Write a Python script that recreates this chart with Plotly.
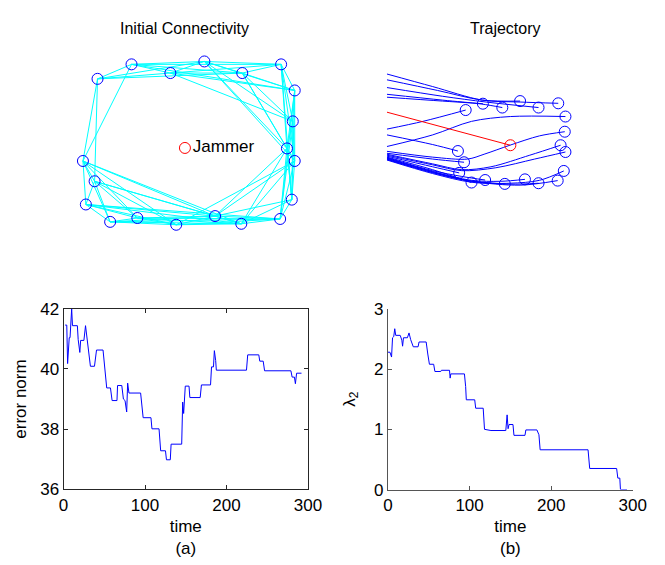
import plotly.graph_objects as go

# ---------------- data ----------------
# Initial connectivity: node positions (panel units)
node_x = [130, 205, 284, 95, 170, 244, 298, 296, 290, 298, 80, 92, 295, 83, 136, 108, 176, 216, 243, 283]
node_y = [57, 54, 57, 72, 66, 66, 84, 116, 144, 157, 157, 178, 197, 202, 216, 220, 223, 214, 222, 217]
jammer_x = [185]
jammer_y = [143.5]
edges = [
    (3, 0), (3, 4), (3, 5), (3, 1), (0, 1), (0, 2), (0, 4), (0, 5), (0, 6),
    (1, 2), (1, 4), (1, 5), (1, 6), (1, 7), (1, 8), (1, 9),
    (4, 2), (4, 5), (4, 6), (4, 7), (5, 2), (5, 6), (5, 7), (5, 8), (5, 9),
    (2, 6), (2, 7), (2, 8), (2, 9), (2, 12), (6, 7), (6, 8), (6, 9), (6, 12), (6, 19),
    (7, 8), (7, 9), (7, 12), (7, 19), (8, 9), (8, 12), (8, 19), (8, 18), (8, 17),
    (9, 12), (9, 19), (9, 18), (9, 17), (9, 16), (3, 10), (3, 11), (0, 10),
    (10, 11), (10, 13), (10, 14), (10, 15), (10, 16), (10, 17), (10, 18),
    (11, 13), (11, 14), (11, 15), (11, 16), (11, 17), (11, 18),
    (13, 14), (13, 15), (13, 16), (13, 17), (13, 18), (13, 19),
    (15, 14), (15, 16), (15, 17), (15, 18), (15, 19),
    (14, 16), (14, 17), (14, 18), (14, 19), (16, 17), (16, 18), (16, 19),
    (17, 18), (17, 19), (17, 12), (18, 19), (18, 12), (19, 12), (12, 8),
]

# Trajectories: sampled points per agent (panel units), last point = final position
traj_x = [
    [393, 440, 491, 530, 569.3],
    [393, 445, 491, 530],
    [393, 450, 495, 549],
    [393, 450, 490, 511.7],
    [393, 450, 491.7],
    [393, 430, 474],
    [393, 440, 480, 520, 576.7],
    [393, 440, 466],
    [393, 440, 476, 493, 520, 550, 576],
    [393, 440, 472.3],
    [393, 440, 470, 500, 540, 571.7],
    [393, 440, 470, 505, 545, 576.7],
    [393, 440, 467.3],
    [393, 440, 480],
    [393, 440, 470, 494],
    [393, 440, 475, 514.3],
    [393, 440, 480, 510, 535],
    [393, 440, 480, 520, 549],
    [393, 440, 480, 530, 568.7],
    [393, 440, 480, 520, 550, 575],
]
traj_y = [
    [67, 80, 94, 96, 97.3],
    [73, 84, 94, 95],
    [81, 90, 96, 101.7],
    [88, 94, 98, 101.7],
    [91, 95, 97.7],
    [124, 116, 104.3],
    [142, 130, 116, 111, 111],
    [130, 140, 146.7],
    [147, 153, 155, 150, 140.5, 131, 126.7],
    [149, 155, 158.3],
    [150, 160, 166, 163, 151, 140.7],
    [151, 161, 167, 164, 155, 147.7],
    [152, 163, 169.3],
    [153, 166, 179.3],
    [153.5, 167, 173, 176.7],
    [154, 168, 177, 180.7],
    [154.5, 168, 177, 178, 176],
    [155, 169, 178, 181, 180],
    [155.5, 169, 178, 182, 177.3],
    [156, 170, 179, 180, 177, 167.3],
]
red_x = [393, 520]
red_y = [106.5, 140.7]

# error norm vs time
err_t = [2, 4, 5, 7, 8, 10, 11, 17, 18, 20, 21, 25, 27, 29, 31, 33, 38, 40.5, 48.5, 51,
         53, 57.6, 59.6, 65.6, 66.3, 71.5, 73.5, 75.5, 77.5, 78.7, 80.3, 94.6, 96.1, 97.7,
         107.3, 108.5, 117.2, 119.2, 125.1, 126.3, 131, 132, 145, 146.2, 147.4, 149.4, 154,
         155, 167.7, 169.2, 180.4, 181.6, 184, 185.1, 186.7, 187.5, 224.5, 226, 239.6, 240.8,
         245, 246.7, 279, 280.5, 283.3, 284.5, 286, 292]
err_v = [41.46, 41.46, 40.18, 41.04, 41.04, 42.0, 41.44, 41.44, 40.98, 40.55, 40.95, 40.95,
         41.44, 40.98, 40.5, 40.09, 40.09, 40.63, 40.63, 39.8, 39.37, 39.37, 38.95, 38.95,
         39.45, 39.45, 39.0, 38.95, 38.57, 39.53, 39.2, 39.2, 38.8, 38.38, 38.38, 38.01, 38.01,
         37.28, 37.28, 36.98, 36.98, 37.5, 37.5, 38.9, 38.52, 39.43, 39.43, 39.05, 39.05,
         39.47, 39.47, 40.07, 40.07, 40.61, 40.28, 39.96, 39.96, 40.47, 40.47, 40.26, 40.26,
         39.94, 39.94, 39.73, 39.73, 39.51, 39.86, 39.86]

# lambda_2 vs time
lam_t = [0, 2.4, 4.4, 5.6, 7.1, 8.3, 9.5, 15, 17, 17.9, 19, 23.8, 25.8, 27.8, 31, 36.9, 38.1,
         46.8, 48.8, 50.8, 56, 57.5, 64.7, 65.5, 75.4, 76.2, 77, 93.7, 95.2, 96, 106.3, 107.5,
         116.7, 118.3, 126.2, 144.4, 146, 147.2, 148.4, 153.2, 154.4, 167.9, 169, 182.5, 185,
         186.5, 245.2, 247.2, 280.2, 281.7, 284.1, 284.9, 292.9]
lam_v = [2.28, 2.28, 2.2, 2.52, 2.54, 2.67, 2.56, 2.56, 2.48, 2.38, 2.52, 2.52, 2.6, 2.49,
         2.37, 2.37, 2.45, 2.45, 2.25, 2.08, 2.08, 1.96, 1.96, 1.98, 1.98, 1.85, 1.92, 1.92,
         1.71, 1.49, 1.49, 1.35, 1.35, 1.0, 0.98, 0.98, 1.24, 1.01, 1.08, 1.08, 0.9, 0.9, 0.99,
         0.99, 0.91, 0.66, 0.66, 0.35, 0.35, 0.19, 0.19, 0.0, 0.0]

x_ticks = [0, 100, 200, 300]
err_ticks = [36, 38, 40, 42]
lam_ticks = [0, 1, 2, 3]

# ---------------- figure ----------------
W, H = 665, 565
OFF = 8  # page body margin of the browser
FONT = "Liberation Sans, Arial, Helvetica, sans-serif"
BLUE = "#0000ff"
CYAN = "#00ffff"
RED = "#ff0000"


def dx(a, b):
    return [(a - OFF) / W, (b - OFF) / W]


def dy(top, bottom):
    return [1 - (bottom - OFF) / H, 1 - (top - OFF) / H]


fig = go.Figure()

# edges
ex, ey = [], []
for i, j in edges:
    ex += [node_x[i], node_x[j], None]
    ey += [node_y[i], node_y[j], None]
fig.add_trace(go.Scatter(x=ex, y=ey, mode="lines", line=dict(color=CYAN, width=1),
                         xaxis="x", yaxis="y", hoverinfo="skip"))
fig.add_trace(go.Scatter(x=node_x, y=node_y, mode="markers",
                         marker=dict(symbol="circle-open", size=11, color=BLUE, line=dict(width=1)),
                         xaxis="x", yaxis="y"))
fig.add_trace(go.Scatter(x=jammer_x, y=jammer_y, mode="markers+text", text=["Jammer"],
                         textposition="middle right",
                         textfont=dict(family=FONT, size=17, color="black"),
                         marker=dict(symbol="circle-open", size=11, color=RED, line=dict(width=1)),
                         xaxis="x", yaxis="y"))

# trajectories
for tx, ty in zip(traj_x, traj_y):
    fig.add_trace(go.Scatter(x=tx, y=ty, mode="lines",
                             line=dict(color=BLUE, width=1, shape="spline", smoothing=0.9),
                             xaxis="x2", yaxis="y2"))
fig.add_trace(go.Scatter(x=red_x, y=red_y, mode="lines", line=dict(color=RED, width=1),
                         xaxis="x2", yaxis="y2"))
fig.add_trace(go.Scatter(x=[t[-1] for t in traj_x], y=[t[-1] for t in traj_y], mode="markers",
                         marker=dict(symbol="circle-open", size=11, color=BLUE, line=dict(width=1)),
                         xaxis="x2", yaxis="y2"))
fig.add_trace(go.Scatter(x=[red_x[-1]], y=[red_y[-1]], mode="markers",
                         marker=dict(symbol="circle-open", size=11, color=RED, line=dict(width=1)),
                         xaxis="x2", yaxis="y2"))

# error norm
fig.add_trace(go.Scatter(x=err_t, y=err_v, mode="lines", line=dict(color=BLUE, width=1),
                         xaxis="x3", yaxis="y3"))
# lambda2
fig.add_trace(go.Scatter(x=lam_t, y=lam_v, mode="lines", line=dict(color=BLUE, width=1),
                         xaxis="x4", yaxis="y4"))

hidden = dict(visible=False, showgrid=False, zeroline=False)
tickfont = dict(family=FONT, size=17, color="black")


def axline(col):
    return dict(showline=True, linecolor=col, linewidth=1, ticks="inside", ticklen=4,
                tickcolor=col, showgrid=False, zeroline=False, tickfont=tickfont)


fig.update_layout(
    width=W, height=H,
    margin=dict(l=0, r=0, t=0, b=0),
    paper_bgcolor="white", plot_bgcolor="white",
    showlegend=False,
    font=dict(family=FONT, size=17, color="black"),
    xaxis=dict(domain=dx(70, 310), range=[70, 310], anchor="y", **hidden),
    yaxis=dict(domain=dy(40, 235), range=[235, 40], anchor="x", **hidden),
    xaxis2=dict(domain=dx(385, 590), range=[385, 590], anchor="y2", **hidden),
    yaxis2=dict(domain=dy(50, 195), range=[195, 50], anchor="x2", **hidden),
    xaxis3=dict(domain=dx(60, 311.7), range=[0, 300], tickvals=x_ticks, mirror="ticks",
                anchor="y3",
                title=dict(text="time<br>(a)", font=tickfont, standoff=6), **axline("#262626")),
    yaxis3=dict(domain=dy(310, 496.7), range=[36, 42], tickvals=err_ticks, mirror="ticks",
                anchor="x3",
                title=dict(text="error norm", font=tickfont, standoff=9), **axline("#262626")),
    xaxis4=dict(domain=dx(394, 646), range=[0, 300], tickvals=x_ticks, anchor="y4",
                title=dict(text="time<br>(b)", font=tickfont, standoff=6), **axline("#555555")),
    yaxis4=dict(domain=dy(310, 497), range=[0, 3], tickvals=lam_ticks, anchor="x4",
                title=dict(text="λ<sub>2</sub>", font=tickfont, standoff=14), **axline("#555555")),
    annotations=[
        dict(text="Initial Connectivity", xref="paper", yref="paper", x=(185 - OFF) / W,
             y=1 - (20 - OFF) / H, xanchor="center", yanchor="middle", showarrow=False,
             font=dict(family=FONT, size=16)),
        dict(text="Trajectory", xref="paper", yref="paper", x=(515 - OFF) / W,
             y=1 - (20 - OFF) / H, xanchor="center", yanchor="middle", showarrow=False,
             font=dict(family=FONT, size=16)),
    ],
)

fig.write_html("out.html")
